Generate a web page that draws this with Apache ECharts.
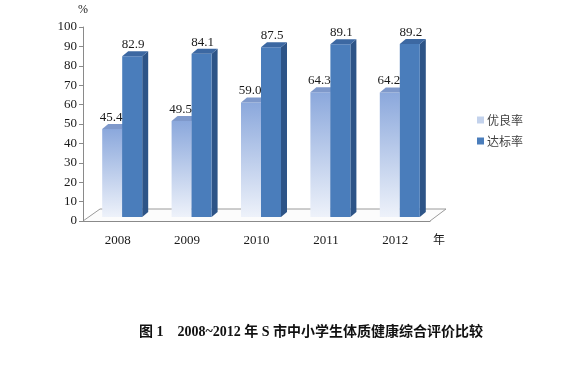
<!DOCTYPE html>
<html style="height: 100%">
<head>
  <meta charset="utf-8">
  <title>2008~2012 S市中小学生体质健康综合评价比较</title>
  <script src="https://cdn.jsdelivr.net/npm/echarts@6/dist/echarts.min.js"></script>
</head>
<body style="height: 100%; margin: 0; background: #fff">
  <div id="main" style="width: 578px; height: 376px"></div>
  <script type="text/javascript">
    var years = ['2008', '2009', '2010', '2011', '2012'];
    var youliang = [45.4, 49.5, 59.0, 64.3, 64.2];
    var dabiao = [82.9, 84.1, 87.5, 89.1, 89.2];
    var seriesNames = ['优良率', '达标率'];

    var serif = '"Liberation Serif", "Times New Roman", serif';
    var cjk = '"Noto Sans CJK SC", sans-serif';

    // faces of each 3d column: front, side, top
    var looks = [
      {
        front: new echarts.graphic.LinearGradient(0, 0, 0, 1, [
          { offset: 0, color: '#8ba8dc' },
          { offset: 1, color: '#eef2fa' }
        ]),
        side: '#6f8cc2',
        top: '#7f99cb',
        legend: '#c3d2ec'
      },
      { front: '#4a7dbb', side: '#2d5487', top: '#3c68a2', legend: '#4a7dbb' }
    ];

    function bar3d(k) {
      return function (params, api) {
        var idx = api.value(0);
        var val = api.value(1);
        var base = api.coord([idx, 0]);
        var top = api.coord([idx, val]);
        var w = 20, dx = 6, dy = -5;
        var x0 = base[0] + 4.5 + (k === 0 ? -w : 0);
        var yb = base[1] - 4;
        var yt = top[1] - 4;
        var look = looks[k];
        return {
          type: 'group',
          children: [
            {
              type: 'polygon',
              shape: { points: [[x0 + w, yb], [x0 + w + dx, yb + dy], [x0 + w + dx, yt + dy], [x0 + w, yt]] },
              style: { fill: look.side }
            },
            {
              type: 'rect',
              shape: { x: x0, y: yt, width: w, height: yb - yt },
              style: { fill: look.front }
            },
            {
              type: 'polygon',
              shape: { points: [[x0, yt], [x0 + w, yt], [x0 + w + dx, yt + dy], [x0 + dx, yt + dy]] },
              style: { fill: look.top }
            },
            {
              type: 'text',
              z2: 100,
              style: {
                text: val.toFixed(1),
                x: x0 + w / 2 + (k === 0 ? -1 : 1),
                y: yt - 5,
                align: 'center',
                verticalAlign: 'bottom',
                font: '13px ' + serif,
                fill: '#1a1a1a'
              }
            }
          ]
        };
      };
    }

    var option = {
      animation: false,
      title: {
        text: '图 1　2008~2012 年 S 市中小学生体质健康综合评价比较',
        left: 134,
        top: 320,
        textStyle: { fontFamily: serif + ', ' + cjk, fontSize: 14, fontWeight: 'bold', color: '#111' }
      },
      legend: {
        orient: 'vertical',
        left: 472,
        top: 109,
        icon: 'rect',
        itemWidth: 7,
        itemHeight: 7,
        itemGap: 9,
        data: seriesNames,
        textStyle: { fontFamily: cjk, fontSize: 12, color: '#404040', padding: [0, 0, 0, -2] }
      },
      grid: { left: 83, right: 148, top: 27, bottom: 155 },
      xAxis: {
        type: 'category',
        data: years,
        axisLine: { lineStyle: { color: '#8a8a8a' } },
        axisTick: { length: 5, lineStyle: { color: '#8a8a8a' } },
        axisLabel: { margin: 13, fontFamily: serif, fontSize: 13, color: '#1a1a1a' }
      },
      yAxis: {
        type: 'value',
        min: 0,
        max: 100,
        interval: 10,
        name: '%',
        nameGap: 11,
        nameTextStyle: { fontFamily: serif, fontSize: 12, color: '#1a1a1a', align: 'center' },
        splitLine: { show: false },
        axisLine: { show: true, lineStyle: { color: '#8a8a8a' } },
        axisTick: { show: true, length: 4, lineStyle: { color: '#8a8a8a' } },
        axisLabel: { margin: 6, fontFamily: serif, fontSize: 13, color: '#1a1a1a' }
      },
      graphic: [
        {
          type: 'polyline',
          z: 0,
          shape: { points: [[83, 221], [100, 209], [446, 209], [430, 221]] },
          style: { fill: '#fcfcfc', stroke: '#9a9a9a', lineWidth: 1 }
        },
        {
          type: 'text',
          left: 433,
          top: 233,
          style: { text: '年', font: '12px ' + cjk, fill: '#1a1a1a' }
        }
      ],
      series: [
        {
          name: seriesNames[0],
          type: 'custom',
          renderItem: bar3d(0),
          itemStyle: { color: looks[0].legend },
          encode: { x: 0, y: 1 },
          data: youliang.map(function (v, i) { return [i, v]; })
        },
        {
          name: seriesNames[1],
          type: 'custom',
          renderItem: bar3d(1),
          itemStyle: { color: looks[1].legend },
          encode: { x: 0, y: 1 },
          data: dabiao.map(function (v, i) { return [i, v]; })
        }
      ]
    };

    var chart = echarts.init(document.getElementById('main'));
    chart.setOption(option);
  </script>
</body>
</html>
